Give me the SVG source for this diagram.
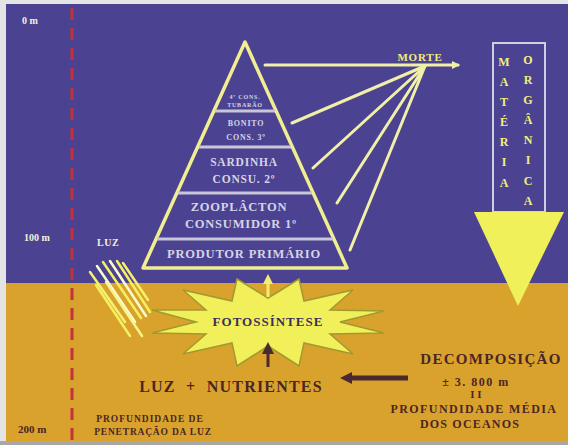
<svg xmlns="http://www.w3.org/2000/svg" width="568" height="445" viewBox="0 0 568 445">
<defs>
<style>
.t{font-family:"Liberation Serif","Times New Roman",serif;font-weight:bold;}
.lt{fill:#d6d4e6;letter-spacing:0.8px;}
.dk{fill:#4a2626;}
.yl{fill:#f2ef7a;}
.ray{stroke-width:2.5;stroke-linecap:round;}
.rl{stroke:#f0f0a8;stroke-width:3;fill:none;stroke-linecap:round;}
.pl{stroke:#c8c6d8;stroke-width:3;}
</style>
<marker id="ah" markerWidth="8" markerHeight="8" refX="6" refY="4" orient="auto" markerUnits="userSpaceOnUse">
<path d="M0,0 L8,4 L0,8 Z" fill="#f0f0a8"/>
</marker>
<marker id="ahy" markerWidth="10" markerHeight="10" refX="5" refY="5" orient="auto" markerUnits="userSpaceOnUse">
<path d="M0,0 L10,5 L0,10 Z" fill="#f2ee70"/>
</marker>
<marker id="ahd" markerWidth="12" markerHeight="12" refX="6" refY="6" orient="auto" markerUnits="userSpaceOnUse">
<path d="M0,0 L12,6 L0,12 Z" fill="#4a2a30"/>
</marker>
</defs>
<rect x="0" y="0" width="568" height="445" fill="#e4e4e4"/>
<rect x="0" y="441" width="568" height="4" fill="#a8a8a8"/>
<rect x="6" y="4" width="562" height="279" fill="#4b4391"/>
<rect x="6" y="283" width="562" height="158" fill="#d9a22c"/>

<g id="depth-line">
<line x1="72" y1="8" x2="72" y2="441" stroke="#c4303c" stroke-width="3" stroke-dasharray="12 8"/>
<text class="t" x="22" y="24" font-size="10" fill="#f4f2d8">0 m</text>
<text class="t" x="24" y="241" font-size="10" fill="#f4f2d8">100 m</text>
<text class="t dk" x="18" y="433" font-size="11">200 m</text>
<text class="t dk" x="150" y="422" font-size="9.5" letter-spacing="1" text-anchor="middle">PROFUNDIDADE DE</text>
<text class="t dk" x="153" y="435" font-size="9.5" letter-spacing="0.8" text-anchor="middle">PENETRAÇÃO DA LUZ</text>
</g>

<g id="pyramid">
<polygon points="245,42 347,268 143,268" fill="none" stroke="#f0ee90" stroke-width="3.5" stroke-linejoin="round"/>
<line class="pl" x1="215" y1="111" x2="275" y2="111"/>
<line class="pl" x1="199" y1="147" x2="291" y2="147"/>
<line class="pl" x1="178" y1="193" x2="312" y2="193"/>
<line class="pl" x1="157" y1="239" x2="333" y2="239"/>
<text class="t lt" x="245" y="99" font-size="6" text-anchor="middle">4º CONS.</text>
<text class="t lt" x="245" y="107" font-size="6" text-anchor="middle">TUBARÃO</text>
<text class="t lt" x="246" y="126" font-size="8" text-anchor="middle">BONITO</text>
<text class="t lt" x="246" y="140" font-size="8" text-anchor="middle">CONS. 3º</text>
<text class="t lt" x="244" y="166" font-size="11.5" text-anchor="middle">SARDINHA</text>
<text class="t lt" x="244" y="183" font-size="11.5" text-anchor="middle">CONSU. 2º</text>
<text class="t lt" x="239" y="211" font-size="12.5" text-anchor="middle">ZOOPLÂCTON</text>
<text class="t lt" x="241" y="228" font-size="12.5" text-anchor="middle">CONSUMIDOR 1º</text>
<text class="t lt" x="244" y="258" font-size="12.5" text-anchor="middle">PRODUTOR PRIMÁRIO</text>
</g>

<g id="morte">
<text class="t yl" x="420" y="61" font-size="11" letter-spacing="0.8" text-anchor="middle">MORTE</text>
</g>

<g id="materia-organica">
<rect x="493" y="43" width="52" height="169" fill="none" stroke="#d0cee0" stroke-width="2"/>
<g class="t yl" font-size="12" text-anchor="middle">
<text x="504" y="66">M</text><text x="504" y="86">A</text><text x="504" y="106">T</text><text x="504" y="126">É</text><text x="504" y="146">R</text><text x="504" y="166">I</text><text x="504" y="187">A</text>
<text x="528" y="64">O</text><text x="528" y="84">R</text><text x="528" y="104">G</text><text x="528" y="124">Â</text><text x="528" y="144">N</text><text x="528" y="164">I</text><text x="528" y="185">C</text><text x="528" y="205">A</text>
</g>
<polygon points="474,212 564,212 518,306" fill="#eff05a"/>
</g>

<g id="luz">
<text class="t" x="97" y="246" font-size="10" letter-spacing="0.5" fill="#f4f2d8">LUZ</text>
<line class="ray" x1="90" y1="272" x2="125" y2="322" stroke="#f5f070"/>
<line class="ray" x1="97" y1="266" x2="135" y2="322" stroke="#fafad0"/>
<line class="ray" x1="103" y1="262" x2="141" y2="318" stroke="#f5f060"/>
<line class="ray" x1="110" y1="261" x2="146" y2="316" stroke="#fafad0"/>
<line class="ray" x1="117" y1="261" x2="150" y2="312" stroke="#f5f060"/>
<line class="ray" x1="123" y1="263" x2="148" y2="300" stroke="#f5f070"/>
<line class="ray" x1="96" y1="285" x2="130" y2="336" stroke="#f5f060"/>
<line class="ray" x1="106" y1="282" x2="142" y2="336" stroke="#f8f488"/>
</g>

<g id="fotossintese">
<polygon points="340,322 384,333 330,334 353,354 304,343 299,366 268,346 237,366 232,343 183,354 206,334 152,333 196,322 152,310 206,310 183,290 232,301 237,279 268,298 299,279 304,301 353,290 330,310 384,311" fill="#f2f05a" stroke="#a09a30" stroke-width="1.5" stroke-linejoin="miter"/>
<text class="t" x="268" y="326" font-size="13" letter-spacing="1" fill="#3a2f5a" text-anchor="middle">FOTOSSÍNTESE</text>
</g>

<g id="luz-nutrientes">
<text class="t dk" x="231" y="392" font-size="16" letter-spacing="1.2" text-anchor="middle" xml:space="preserve">LUZ  +  NUTRIENTES</text>
</g>

<g id="decomposicao">
<text class="t dk" x="491" y="364" font-size="15" letter-spacing="1.3" text-anchor="middle">DECOMPOSIÇÃO</text>
<text class="t dk" x="476" y="386" font-size="12" letter-spacing="1.5" text-anchor="middle">± 3. 800 m</text>
<text class="t dk" x="476" y="398" font-size="11" text-anchor="middle">I I</text>
<text class="t dk" x="474" y="413" font-size="12" letter-spacing="1.4" text-anchor="middle">PROFUNDIDADE MÉDIA</text>
<text class="t dk" x="470" y="428" font-size="12" letter-spacing="1.2" text-anchor="middle">DOS OCEANOS</text>
</g>

<g id="connectors">
<line class="rl" x1="265" y1="65" x2="458" y2="65" marker-end="url(#ah)"/>
<line class="rl" x1="425" y1="66" x2="292" y2="123"/>
<line class="rl" x1="425" y1="66" x2="313" y2="168"/>
<line class="rl" x1="425" y1="66" x2="337" y2="203"/>
<line class="rl" x1="425" y1="66" x2="350" y2="250"/>
<line x1="268" y1="297" x2="268" y2="279" stroke="#f2ee70" stroke-width="3" marker-end="url(#ahy)"/>
<line x1="268" y1="367" x2="268" y2="348" stroke="#4a2a30" stroke-width="3" marker-end="url(#ahd)"/>
<line x1="408" y1="378" x2="346" y2="378" stroke="#4a2a30" stroke-width="5" marker-end="url(#ahd)"/>
</g>
</svg>
